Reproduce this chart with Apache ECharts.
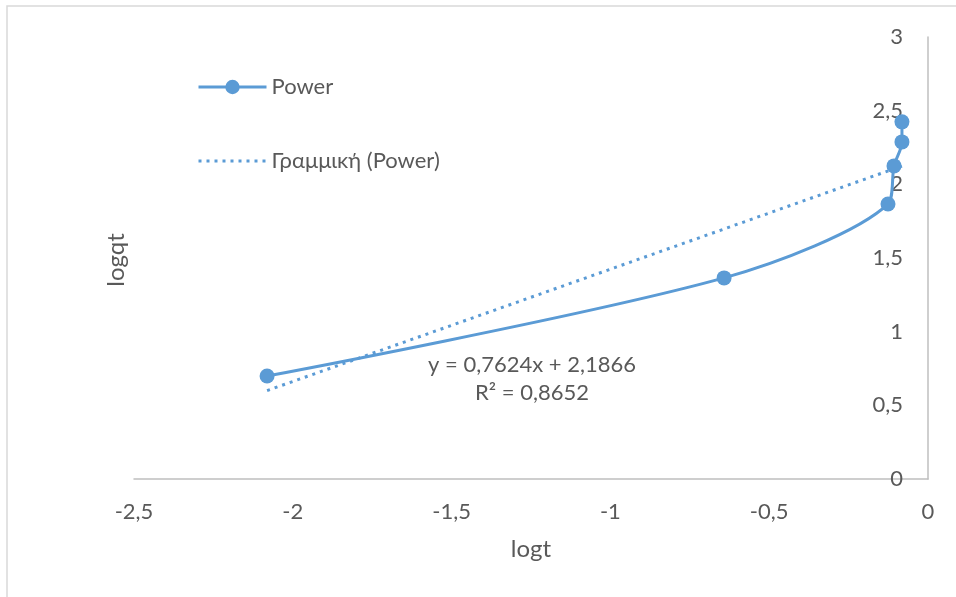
<!DOCTYPE html>
<html>
<head>
<meta charset="utf-8">
<script src="https://cdn.jsdelivr.net/npm/echarts@6/dist/echarts.min.js"></script>
<style>
html,body{margin:0;padding:0;background:#fff;}
#chart{width:956px;height:597px;}
</style>
</head>
<body>
<div id="chart"></div>
<script>
// Data
var logt = [-2.081, -0.642, -0.126, -0.107, -0.082, -0.082];
var logqt = [0.699, 1.365, 1.867, 2.125, 2.288, 2.424];
var seriesName = 'Power';
var trendName = 'Γραμμική (Power)';
var trendSlope = 0.7624;
var trendIntercept = 2.1866;
var trendR2 = 0.8652;
var xTitle = 'logt';
var yTitle = 'logqt';

var FONT = 'Lato, "Open Sans", sans-serif';
var TXT = '#595959';
var BLUE = '#5B9BD5';

function comma(v){ return String(v).replace('.', ','); }

var powerData = logt.map(function(x, i){ return [x, logqt[i]]; });
var xMin = Math.min.apply(null, logt), xMax = Math.max.apply(null, logt);
var trendData = [[xMin, trendSlope*xMin + trendIntercept], [xMax, trendSlope*xMax + trendIntercept]];

var chart = echarts.init(document.getElementById('chart'));
chart.setOption({
  backgroundColor: '#fff',
  animation: false,
  grid: {left: 134, right: 28, top: 37, bottom: 118, containLabel: false},
  legend: {
    left: 197, top: 76, orient: 'vertical', itemGap: 52,
    itemWidth: 68, itemHeight: 18, padding: 0,
    lineStyle: {width: 3},
    textStyle: {fontFamily: FONT, fontSize: 22, color: TXT, padding: [0,0,0,0]},
    data: [seriesName, {name: trendName, itemStyle: {opacity: 0}}]
  },
  xAxis: {
    type: 'value', min: -2.5, max: 0, interval: 0.5,
    axisLine: {show: true, onZero: false, lineStyle: {color: '#BFBFBF', width: 1.5}},
    axisTick: {show: false},
    splitLine: {show: false},
    axisLabel: {fontFamily: FONT, fontSize: 22, color: TXT, margin: 22, formatter: comma},
    name: xTitle, nameLocation: 'middle', nameGap: 58,
    nameTextStyle: {fontFamily: FONT, fontSize: 24, color: TXT}
  },
  yAxis: {
    type: 'value', min: 0, max: 3, interval: 0.5, position: 'right',
    axisLine: {show: true, onZero: false, lineStyle: {color: '#BFBFBF', width: 1.5}},
    axisTick: {show: false},
    splitLine: {show: false},
    axisLabel: {inside: true, fontFamily: FONT, fontSize: 22, color: TXT, margin: 25, formatter: comma}
  },
  series: [
    {
      name: seriesName, type: 'line', data: powerData, smooth: 0.3,
      symbol: 'circle', symbolSize: 15, z: 3,
      lineStyle: {color: BLUE, width: 3},
      itemStyle: {color: BLUE}
    },
    {
      name: trendName, type: 'line', data: trendData, symbol: 'none', z: 2,
      lineStyle: {color: BLUE, width: 3, type: [3, 5]},
      itemStyle: {color: BLUE}
    }
  ],
  graphic: [
    {type: 'rect', shape: {x: 7, y: 6, width: 1200, height: 1000}, style: {fill: 'none', stroke: '#D9D9D9', lineWidth: 1.5}, silent: true, z: -10},
    {type: 'text', style: {text: 'y = ' + comma(trendSlope) + 'x + ' + comma(trendIntercept), x: 532, y: 365, fontFamily: FONT, fontSize: 22, fill: TXT, align: 'center', verticalAlign: 'middle'}},
    {type: 'text', style: {text: 'R² = ' + comma(trendR2), x: 532, y: 393, fontFamily: FONT, fontSize: 22, fill: TXT, align: 'center', verticalAlign: 'middle'}},
    {type: 'text', x: 116, y: 260, rotation: Math.PI/2, style: {text: yTitle, fontFamily: FONT, fontSize: 24, fill: TXT, align: 'center', verticalAlign: 'middle'}}
  ]
});
</script>
</body>
</html>
